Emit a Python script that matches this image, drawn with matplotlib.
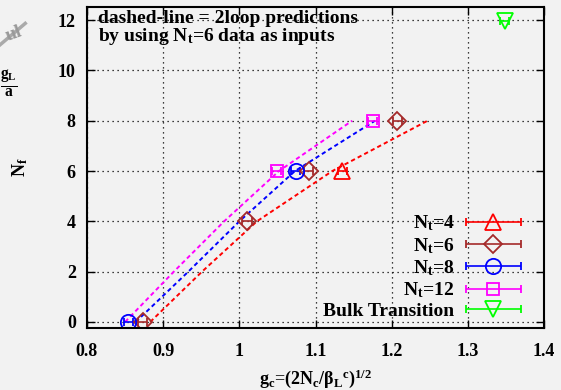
import matplotlib
matplotlib.use('Agg')
import matplotlib.pyplot as plt
from matplotlib.container import ErrorbarContainer
from matplotlib.legend_handler import HandlerErrorbar
from matplotlib.lines import Line2D

plt.rcParams['font.family'] = 'Liberation Serif'
plt.rcParams['font.weight'] = 'bold'
plt.rcParams['mathtext.fontset'] = 'custom'
plt.rcParams['mathtext.rm'] = 'Liberation Serif:bold'
plt.rcParams['mathtext.it'] = 'Liberation Serif:bold'
plt.rcParams['mathtext.bf'] = 'Liberation Serif:bold'

# measured points (x = g_c, y = N_f)
nt4_x = [1.135]
nt4_y = [6]
nt6_x = [0.873, 1.010, 1.091, 1.207]
nt6_y = [0, 4, 6, 8]
nt8_x = [0.854, 1.074]
nt8_y = [0, 6]
nt12_x = [1.049, 1.175]
nt12_y = [6, 8]
bulk_x = [1.348]
bulk_y = [11.95]
xerr = 0.006

# 2loop predictions (dashed)
pred_y = [0, 2, 4, 6, 8]
pred4_x = [0.883, 0.951, 1.023, 1.122, 1.247]
pred8_x = [0.864, 0.933, 1.000, 1.073, 1.178]
pred12_x = [0.850, 0.914, 0.980, 1.052, 1.148]

labels = [r'$\mathrm{N_t}$=4', r'$\mathrm{N_t}$=6', r'$\mathrm{N_t}$=8', r'$\mathrm{N_t}$=12', 'Bulk Transition']

bg = '#f2f2f2'
fig = plt.figure(figsize=(5.61, 3.90), dpi=100, facecolor=bg)
ax = fig.add_axes([0.155, 0.159, 0.815, 0.823], facecolor=bg)

dash = (0, (2.2, 1.6))
ax.plot(pred4_x, pred_y, color='#ff0000', ls=dash, lw=1.4)
ax.plot(pred8_x, pred_y, color='#0000ff', ls=dash, lw=1.4)
ax.plot(pred12_x, pred_y, color='#ff00ff', ls=dash, lw=1.4)

kw = dict(xerr=xerr, ls='none', mfc='none', mew=1.3, elinewidth=1.2, capsize=3, capthick=1.2)
h4 = ax.errorbar(nt4_x, nt4_y, marker='^', ms=11, color='#ff0000', **kw)
h6 = ax.errorbar(nt6_x, nt6_y, marker='D', ms=9, color='#a52a2a', **kw)
h8 = ax.errorbar(nt8_x, nt8_y, marker='o', ms=11, color='#0000ff', **kw)
h12 = ax.errorbar(nt12_x, nt12_y, marker='s', ms=9, color='#ff00ff', **kw)
hb = ax.errorbar(bulk_x, bulk_y, marker='v', ms=11, color='#00ff00', **kw)

ax.set_xlim(0.8, 1.4)
ax.set_ylim(-0.24, 12.52)
ax.set_xticks([0.8, 0.9, 1.0, 1.1, 1.2, 1.3, 1.4])
ax.set_xticklabels(['0.8', '0.9', '1', '1.1', '1.2', '1.3', '1.4'])
ax.set_yticks([0, 2, 4, 6, 8, 10, 12])
ax.tick_params(direction='in', top=True, right=True, length=6, width=1, labelsize=13)
ax.tick_params(axis='x', pad=11)
ax.tick_params(axis='y', pad=8)
ax.grid(True, color='black', ls=(0, (1, 3)), lw=0.9)
for s in ax.spines.values():
    s.set_linewidth(1.5)

ax.set_xlabel(r'$\mathrm{g_c}$=$\mathrm{(2N_c/\beta_L{}^c)^{1/2}}$', fontsize=13, labelpad=5)
ax.set_ylabel(r'$\mathrm{N_f}$', fontsize=13, labelpad=20)

ax.text(0.024, 0.99, 'dashed-line = 2loop predictions\nby using $\\mathrm{N_t}$=6 data as inputs',
        transform=ax.transAxes, ha='left', va='top', fontsize=14, linespacing=0.9)

fs = 14
leg = ax.legend([h4, h6, h8, h12, hb], labels, loc='lower right', bbox_to_anchor=(0.978, -0.018),
                frameon=False, markerfirst=False, fontsize=fs, handlelength=2.8,
                labelspacing=0.13, handletextpad=0.6, borderpad=0.2,
                handler_map={ErrorbarContainer: HandlerErrorbar(xerr_size=1.4)})

# right-align the legend labels against the handles
fig.canvas.draw()
renderer = fig.canvas.get_renderer()
boxes = [t.get_window_extent(renderer) for t in leg.get_texts()]
xright = max(b.x1 for b in boxes)
W, H = fig.bbox.width, fig.bbox.height
for t, b, lab in zip(leg.get_texts(), boxes, labels):
    t.set_alpha(0)
    fig.text(xright / W, b.y0 / H, lab, ha='right', va='bottom', fontsize=fs)

# clipped remnants on the far left
fig.text(0.005, 0.895, 'ul', color='#999999', fontsize=14, rotation=20)
fig.add_artist(Line2D([0.0, 0.045], [0.885, 0.94], color='#aaaaaa', lw=2.5, transform=fig.transFigure))
fig.text(0.0, 0.76, r'$\mathrm{\frac{g_L}{a}}$', fontsize=16)

fig.savefig('out.png', dpi=100, facecolor=bg)
